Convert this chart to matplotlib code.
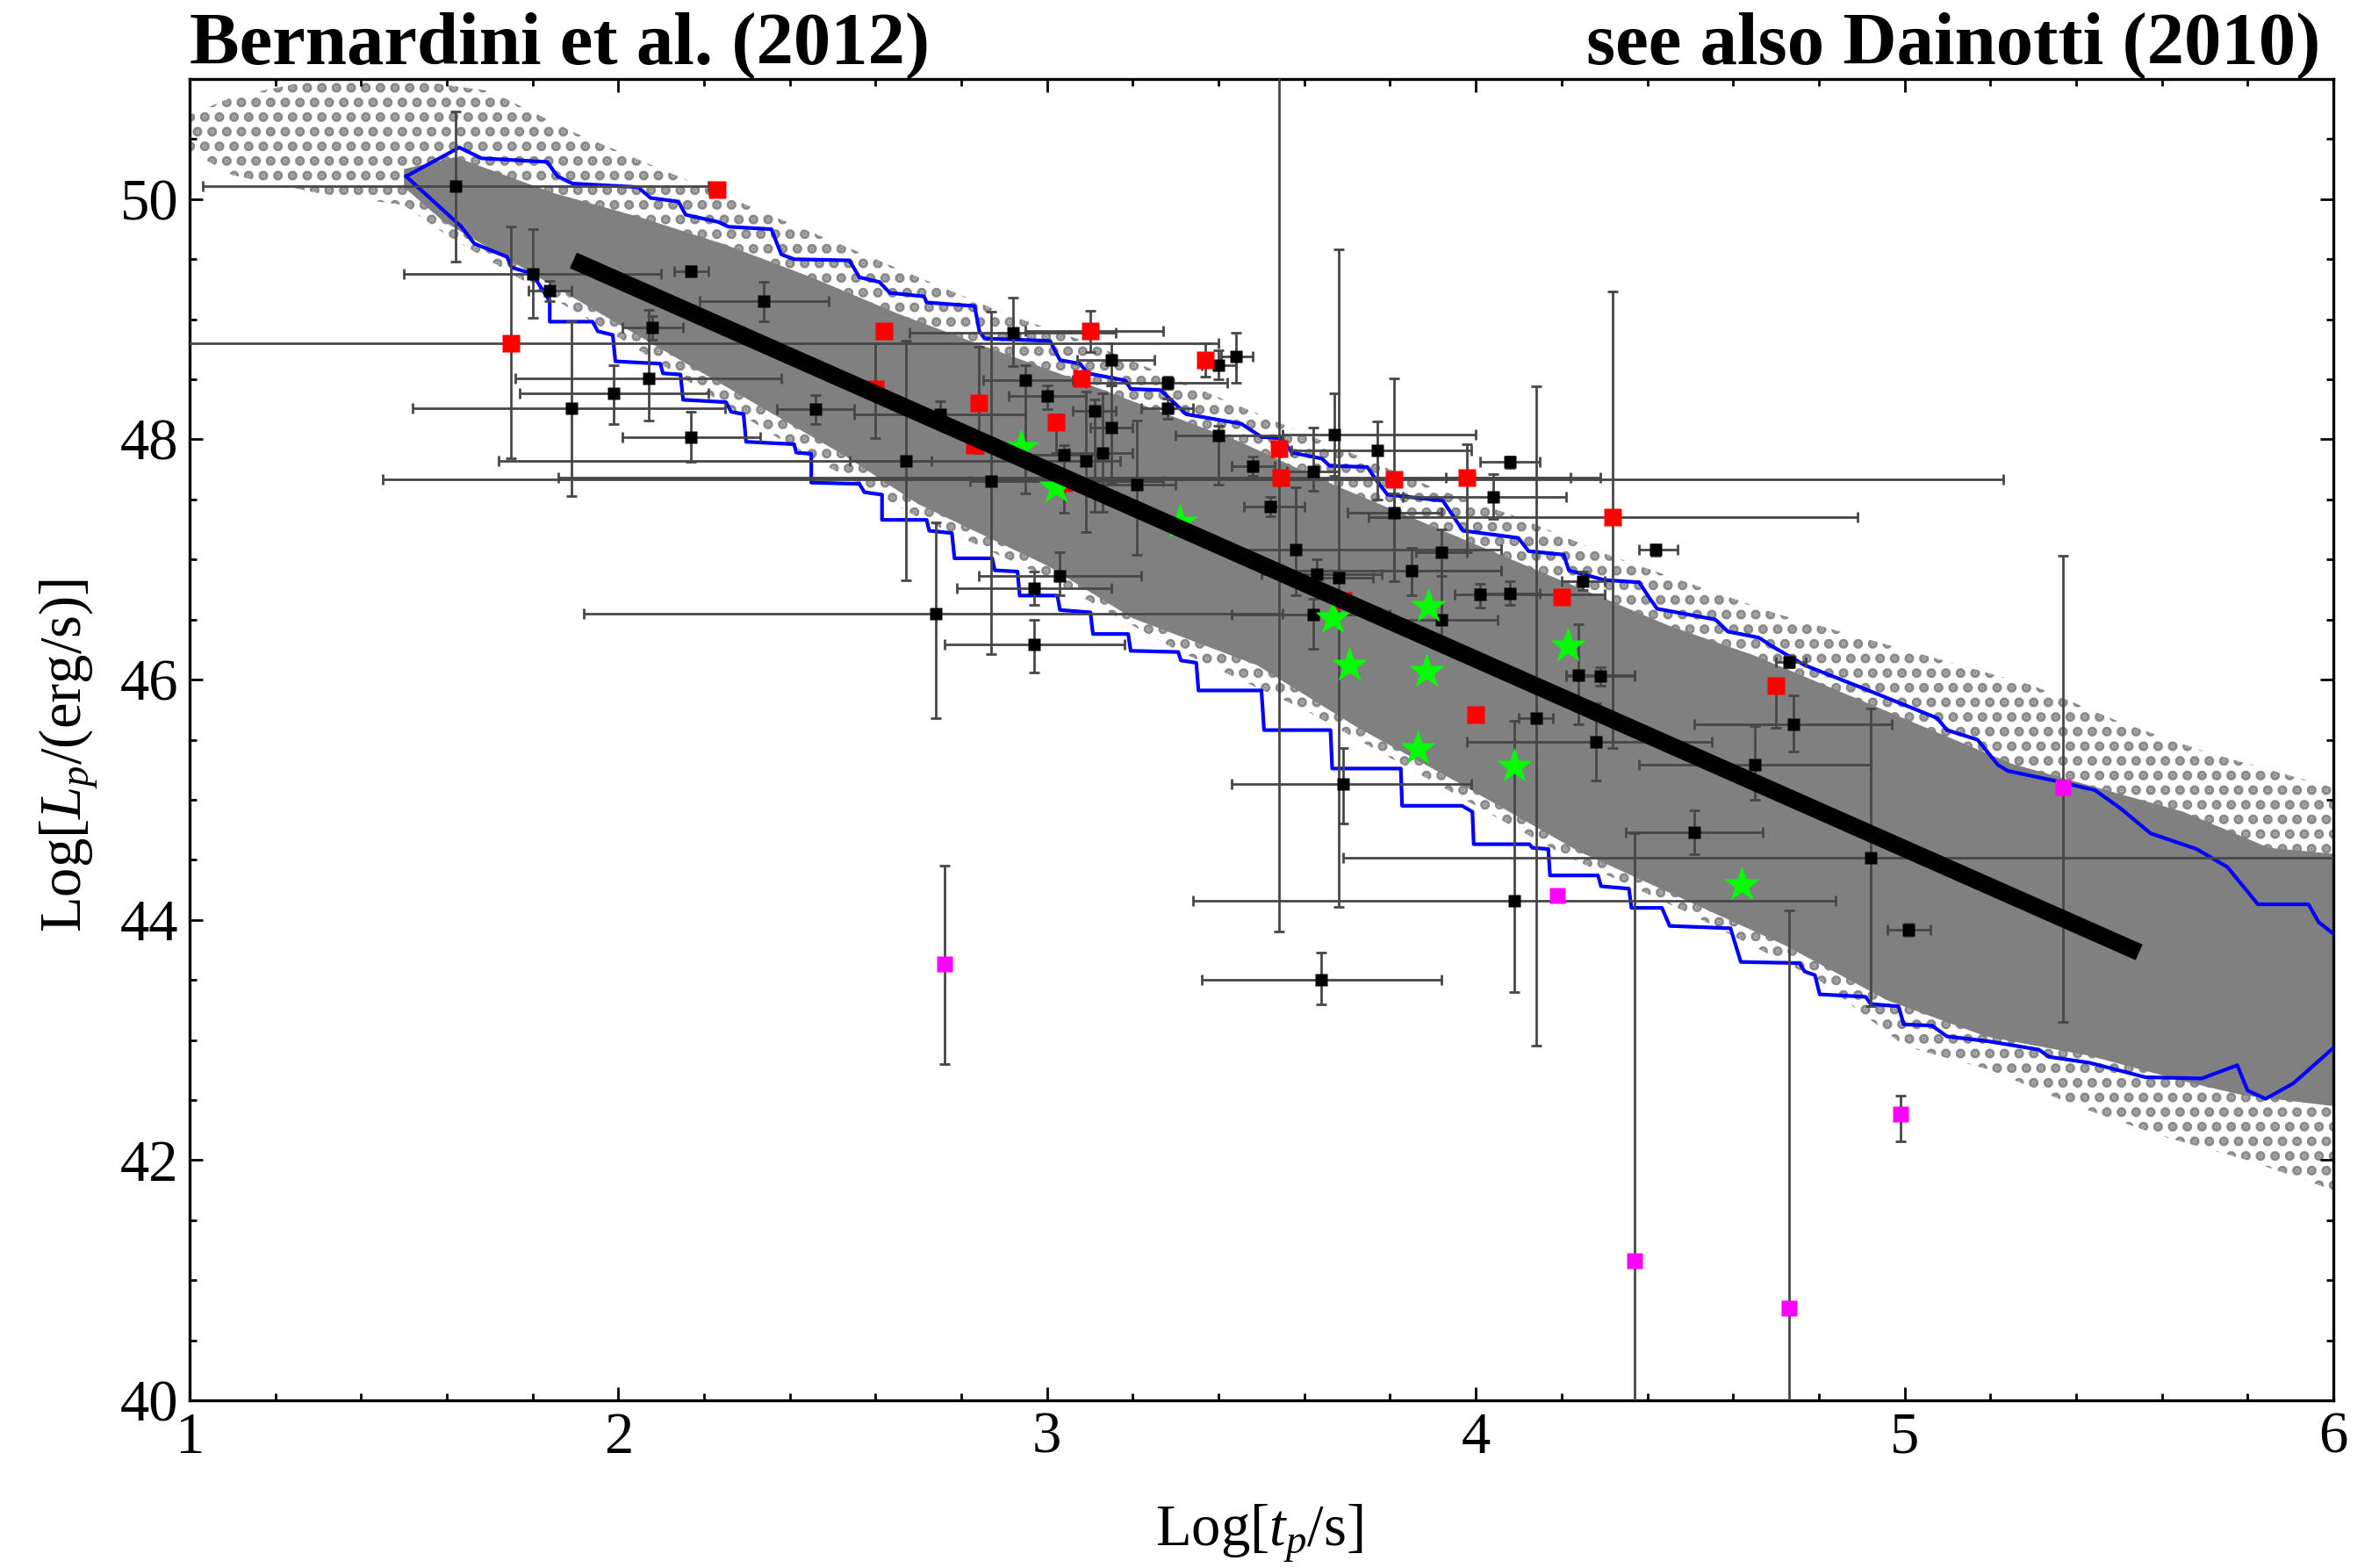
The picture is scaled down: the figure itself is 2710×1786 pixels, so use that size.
import numpy as np
import matplotlib
matplotlib.use('Agg')
import matplotlib.pyplot as plt
from matplotlib.ticker import MultipleLocator

#-----------------------------------Data----------------------------------

# simulated population: dense band (upper edge left->right, lower edge left->right)
dense_up_x = [1.50, 1.62, 1.85, 2.05, 2.25, 2.45, 2.65, 2.85, 3.05, 3.25, 3.45, 3.65,
              3.85, 4.05, 4.25, 4.45, 4.65, 4.85, 5.05, 5.25, 5.45, 5.65, 5.85, 6.00]
dense_up_y = [50.25, 50.35, 50.05, 49.85, 49.62, 49.35, 49.05, 48.78, 48.52, 48.25, 47.98, 47.65,
              47.35, 47.05, 46.75, 46.45, 46.20, 45.90, 45.60, 45.30, 45.10, 44.90, 44.60, 44.55]
dense_lo_x = [1.50, 1.59, 2.00, 2.53, 2.70, 3.00, 3.20, 3.49, 3.72, 3.96, 4.24, 4.48,
              4.72, 4.96, 5.19, 5.43, 5.67, 5.79, 6.00]
dense_lo_y = [50.10, 49.82, 48.96, 47.86, 47.46, 46.95, 46.51, 46.12, 45.61, 45.14, 44.57, 44.18,
              43.79, 43.33, 43.03, 42.87, 42.64, 42.54, 42.45]

# sparse outskirts of the population
sparse_up_x = [1.0, 1.1, 1.3, 1.5, 1.7, 1.9, 2.1, 2.3, 2.5, 2.7, 2.9, 3.1, 3.3, 3.5,
               3.7, 3.9, 4.1, 4.3, 4.5, 4.7, 4.9, 5.1, 5.3, 5.5, 5.7, 5.9, 6.0]
sparse_up_y = [50.70, 50.85, 51.00, 51.00, 50.90, 50.55, 50.25, 49.95, 49.65, 49.35, 49.05, 48.80,
               48.50, 48.20, 47.90, 47.60, 47.35, 47.05, 46.80, 46.55, 46.35, 46.15, 45.95,
               45.65, 45.40, 45.20, 45.10]
sparse_lo_x = [1.0, 1.1, 1.3, 1.5, 1.6, 2.0, 2.4, 2.7, 3.0, 3.3, 3.6, 3.9, 4.2, 4.5,
               4.8, 5.0, 5.2, 5.4, 5.6, 5.8, 6.0]
sparse_lo_y = [50.40, 50.20, 50.05, 49.95, 49.70, 48.85, 47.95, 47.35, 46.85, 46.25, 45.75, 45.15,
               44.55, 44.05, 43.50, 42.95, 42.75, 42.45, 42.20, 42.00, 41.75]

# blue contour
blue_up_x = [1.505, 1.629, 1.681, 1.834, 1.858, 1.893, 2.046, 2.075, 2.140, 2.157, 2.233, 2.257,
             2.357, 2.380, 2.410, 2.539, 2.562, 2.609, 2.633, 2.713, 2.719, 2.831, 2.842, 2.854,
             3.007, 3.030, 3.077, 3.095, 3.183, 3.195, 3.265, 3.289, 3.324, 3.453, 3.500, 3.547,
             3.571, 3.641, 3.659, 3.747, 3.770, 3.794, 3.923, 3.970, 4.099, 4.123, 4.205, 4.217,
             4.299, 4.381, 4.405, 4.423, 4.559, 4.588, 4.660, 4.690, 4.767, 4.909, 5.076, 5.099,
             5.170, 5.218, 5.241, 5.348, 5.444, 5.503, 5.574, 5.681, 5.753, 5.824, 5.942, 5.966, 6.002]
blue_up_y = [50.19, 50.43, 50.34, 50.31, 50.19, 50.13, 50.10, 50.01, 49.98, 49.87, 49.81, 49.77,
             49.75, 49.54, 49.50, 49.49, 49.35, 49.31, 49.22, 49.19, 49.14, 49.11, 48.90, 48.84,
             48.82, 48.66, 48.63, 48.55, 48.49, 48.42, 48.41, 48.33, 48.21, 48.13, 48.02, 48.01,
             47.89, 47.84, 47.78, 47.77, 47.65, 47.54, 47.49, 47.24, 47.18, 47.07, 47.04, 46.91,
             46.83, 46.81, 46.68, 46.59, 46.50, 46.40, 46.35, 46.28, 46.12, 45.92, 45.68, 45.58,
             45.50, 45.29, 45.24, 45.16, 45.08, 44.93, 44.72, 44.59, 44.44, 44.13, 44.13, 43.98, 43.88]
blue_lo_x = [1.505, 1.634, 1.664, 1.740, 1.752, 1.799, 1.840, 1.840, 1.940, 1.952, 1.987, 1.993,
             2.098, 2.104, 2.145, 2.151, 2.251, 2.263, 2.292, 2.298, 2.410, 2.415, 2.450, 2.450,
             2.562, 2.574, 2.615, 2.615, 2.719, 2.725, 2.778, 2.784, 2.872, 2.878, 2.931, 2.936,
             3.024, 3.030, 3.101, 3.107, 3.189, 3.195, 3.306, 3.312, 3.348, 3.353, 3.500, 3.506,
             3.661, 3.665, 3.825, 3.828, 3.968, 3.992, 3.995, 4.125, 4.132, 4.169, 4.173, 4.285,
             4.292, 4.357, 4.363, 4.434, 4.452, 4.594, 4.618, 4.755, 4.767, 4.791, 4.802, 4.909,
             4.921, 4.986, 4.998, 5.064, 5.099, 5.194, 5.313, 5.337, 5.432, 5.562, 5.693, 5.776,
             5.800, 5.842, 5.907, 6.002]
blue_lo_y = [50.19, 49.77, 49.63, 49.52, 49.43, 49.38, 49.15, 48.98, 48.98, 48.90, 48.87, 48.65,
             48.63, 48.55, 48.54, 48.33, 48.31, 48.23, 48.21, 47.98, 47.96, 47.89, 47.88, 47.64,
             47.63, 47.56, 47.54, 47.33, 47.33, 47.24, 47.22, 47.01, 47.01, 46.91, 46.90, 46.70,
             46.70, 46.58, 46.56, 46.38, 46.38, 46.24, 46.23, 46.16, 46.14, 45.91, 45.91, 45.58,
             45.58, 45.26, 45.26, 44.95, 44.95, 44.90, 44.63, 44.63, 44.60, 44.59, 44.37, 44.37,
             44.28, 44.26, 44.10, 44.10, 43.95, 43.93, 43.65, 43.64, 43.57, 43.54, 43.38, 43.36,
             43.30, 43.28, 43.13, 43.12, 43.03, 42.99, 42.92, 42.86, 42.81, 42.69, 42.68, 42.79,
             42.58, 42.51, 42.64, 42.94]

# black data points: value, then lower/upper ends of error bars
bx    = [1.62, 1.80, 1.84, 2.17, 2.34, 2.08, 2.07, 1.99, 1.89, 2.46, 2.17, 2.67, 2.75, 2.74, 2.97,
         2.97, 3.03, 2.87, 2.92, 2.95, 3.00, 3.04, 3.09, 3.13, 3.11, 3.15, 3.15, 3.21, 3.28, 3.28,
         3.40, 3.44, 3.40, 3.48, 3.52, 3.62, 3.67, 3.77, 4.08, 4.04, 3.81, 3.58, 3.85, 3.92, 3.63,
         3.68, 4.25, 4.42, 4.01, 4.08, 3.62, 3.92, 4.24, 4.29, 4.14, 4.28, 3.69, 4.73, 4.74, 4.65,
         4.51, 4.92, 5.01, 4.09, 3.64]
by    = [50.11, 49.38, 49.24, 49.40, 49.15, 48.93, 48.51, 48.38, 48.26, 48.25, 48.02, 47.82, 48.21,
         46.55, 46.76, 46.29, 46.86, 47.65, 48.89, 48.49, 48.36, 47.87, 47.82, 47.89, 48.24, 48.66,
         48.10, 47.62, 48.47, 48.26, 48.62, 48.69, 48.03, 47.78, 47.44, 47.73, 48.04, 47.91, 47.81,
         47.52, 47.39, 47.08, 46.91, 47.06, 46.88, 46.85, 46.82, 47.08, 46.71, 46.72, 46.54, 46.50,
         46.04, 46.03, 45.68, 45.48, 45.13, 46.15, 45.63, 45.29, 44.73, 44.52, 43.92, 44.16, 43.50]
bx_lo = [1.03, 1.50, 1.79, 2.13, 2.19, 2.01, 1.76, 1.77, 1.52, 2.37, 2.01, 2.54, 2.55, 1.92, 2.79,
         2.76, 2.84, 2.82, 2.68, 2.85, 2.91, 2.95, 1.72, 3.05, 3.06, 3.07, 3.10, 3.10, 3.09, 3.22,
         3.36, 3.405, 3.30, 3.43, 3.46, 3.56, 3.55, 3.57, 4.01, 3.83, 3.70, 3.43, 3.50, 3.86, 3.50,
         3.60, 4.20, 4.38, 3.95, 4.00, 3.43, 3.80, 4.21, 4.21, 4.10, 3.98, 3.43, 4.70, 4.51, 4.38,
         4.35, 3.69, 4.96, 3.34, 3.36]
bx_hi = [2.21, 2.10, 1.89, 2.21, 2.49, 2.15, 2.38, 2.21, 2.25, 2.55, 2.33, 2.73, 2.95, 3.55, 3.15,
         3.18, 3.22, 3.27, 3.16, 3.06, 3.09, 3.12, 3.17, 3.20, 3.16, 3.25, 3.20, 3.30, 3.42, 3.34,
         3.44, 3.48, 3.55, 3.53, 3.60, 3.68, 4.00, 3.99, 4.15, 4.21, 3.92, 4.06, 4.06, 3.98, 3.78,
         3.76, 4.30, 4.47, 4.30, 4.15, 3.80, 4.05, 4.37, 4.37, 4.18, 4.55, 3.99, 4.77, 4.97, 4.92,
         4.67, 6.20, 5.06, 4.84, 3.92]
by_lo = [49.48, 49.01, 49.15, 49.36, 48.98, 48.83, 48.16, 48.13, 47.53, 48.13, 47.81, 46.83, 48.10,
         45.68, 46.62, 46.06, 46.70, 46.21, 48.61, 47.55, 48.25, 47.39, 47.23, 47.40, 47.40, 48.45,
         47.63, 47.04, 48.42, 48.17, 48.50, 48.47, 47.62, 47.70, 47.36, 47.57, 47.70, 47.50, 47.76,
         47.34, 46.82, 46.70, 46.70, 46.86, 46.75, 44.11, 46.75, 47.03, 46.60, 46.62, 46.26, 46.35,
         45.63, 45.95, 42.95, 45.16, 44.80, 46.10, 45.40, 45.00, 44.55, 43.28, 43.87, 43.40, 43.30]
by_hi = [50.73, 49.75, 49.32, 49.44, 49.31, 49.03, 49.08, 48.62, 48.98, 48.37, 48.23, 48.82, 48.32,
         47.31, 46.90, 46.50, 47.06, 49.06, 49.18, 48.62, 48.45, 47.95, 48.40, 48.38, 48.33, 48.80,
         48.45, 48.16, 48.52, 48.34, 48.74, 48.89, 48.11, 47.86, 47.52, 48.10, 48.38, 48.15, 47.86,
         47.71, 47.55, 47.60, 47.10, 47.25, 47.00, 49.58, 46.90, 47.13, 46.80, 46.82, 46.67, 46.91,
         46.46, 46.10, 48.44, 45.80, 45.43, 46.20, 45.87, 45.61, 44.91, 45.76, 43.97, 45.66, 43.73]

# red data points
rx    = [1.75, 2.23, 2.62, 2.60, 2.84, 2.83, 3.02, 3.04, 3.10, 3.08, 3.37, 3.54, 3.545, 3.81, 3.98,
         4.32, 3.69, 4.20, 4.00, 4.70]
ry    = [48.80, 50.08, 48.90, 48.42, 48.30, 47.95, 48.14, 47.64, 48.90, 48.51, 48.66, 47.92, 47.68,
         47.67, 47.68, 47.35, 46.66, 46.69, 45.71, 45.95]
rx_lo = [0.50, 2.23, 2.62, 2.60, 2.84, 2.83, 3.02, 3.04, 2.95, 3.08, 3.37, 3.54, 1.86, 1.45, 3.93,
         3.75, 3.69, 4.20, 4.00, 4.70]
rx_hi = [3.40, 2.23, 2.62, 2.60, 2.84, 2.83, 3.02, 3.04, 3.27, 3.08, 3.37, 3.54, 4.22, 5.23, 4.29,
         4.89, 3.69, 4.20, 4.00, 4.70]
ry_lo = [47.84, 50.08, 48.90, 48.01, 47.89, 47.95, 47.89, 47.64, 48.73, 48.51, 48.52, 43.90, 47.68,
         46.82, 47.06, 45.43, 46.66, 46.69, 45.71, 45.60]
ry_hi = [49.77, 50.08, 48.90, 48.80, 48.77, 47.95, 48.21, 47.64, 49.07, 48.51, 48.80, 51.50, 47.68,
         48.51, 47.96, 49.23, 46.66, 46.69, 45.71, 45.95]

# magenta data points
mx    = [2.76, 4.19, 4.37, 4.73, 4.99, 5.37]
my    = [43.63, 44.20, 41.16, 40.77, 42.38, 45.10]
my_lo = [42.80, 44.20, 38.00, 38.00, 42.16, 43.15]
my_hi = [44.45, 44.20, 44.72, 44.08, 42.54, 47.03]

# green stars
gx = [2.94, 3.02, 3.31, 3.665, 3.705, 3.89, 3.885, 3.865, 4.09, 4.215, 4.62]
gy = [47.93, 47.60, 47.31, 46.51, 46.12, 46.61, 46.07, 45.42, 45.28, 46.28, 44.29]

# best fit line
fit_x = [1.895, 5.547]
fit_y = [49.49, 43.73]

x_ticks = [1, 2, 3, 4, 5, 6]
y_ticks = [40, 42, 44, 46, 48, 50]

#-----------------------------------Functions----------------------------------

def band(ax, up_x, up_y, lo_x, lo_y, z, **kw):
#Fills the region between an upper and a lower edge
    px = list(up_x) + list(lo_x)[::-1]
    py = list(up_y) + list(lo_y)[::-1]
    ax.fill(px, py, lw=0, zorder=z, **kw)

def bars(ax, x, y, lo_x, hi_x, lo_y, hi_y, z):
#Draws asymmetric error bars from the lower and upper ends
    x = np.array(x); y = np.array(y)
    xerr = [x - np.array(lo_x), np.array(hi_x) - x]
    yerr = [y - np.array(lo_y), np.array(hi_y) - y]
    ax.errorbar(x, y, xerr=xerr, yerr=yerr, fmt='none', ecolor='#474747',
                elinewidth=2.0, capsize=4.5, capthick=2.0, zorder=z)

#-----------------------------------Plot----------------------------------

plt.rcParams['font.family'] = ['Liberation Serif', 'DejaVu Serif']
plt.rcParams['mathtext.fontset'] = 'custom'
plt.rcParams['mathtext.rm'] = 'Liberation Serif'
plt.rcParams['mathtext.it'] = 'Liberation Serif:italic'
plt.rcParams['hatch.linewidth'] = 5.5

fig = plt.figure(figsize=(27.1, 17.86), dpi=100)
ax = fig.add_axes([0.0797, 0.1069, 0.9011, 0.8427])

# sparse outskirts as a dotted texture, dense core as solid grey
band(ax, sparse_up_x, sparse_up_y, sparse_lo_x, sparse_lo_y, 1,
     facecolor='none', edgecolor='#8a8a8a', hatch='.')
band(ax, dense_up_x, dense_up_y, dense_lo_x, dense_lo_y, 2, color='#808080')

ax.plot(blue_up_x, blue_up_y, color='#0000ff', lw=3.0, zorder=3)
ax.plot(blue_lo_x, blue_lo_y, color='#0000ff', lw=3.0, zorder=3)

bars(ax, bx, by, bx_lo, bx_hi, by_lo, by_hi, 4)
bars(ax, rx, ry, rx_lo, rx_hi, ry_lo, ry_hi, 4)
bars(ax, mx, my, mx, mx, my_lo, my_hi, 4)

ax.plot(bx, by, 's', color='black', ms=9.5, mec='none', zorder=5)
ax.plot(rx, ry, 's', color='#ff0000', ms=14.5, mec='none', zorder=6)
ax.plot(mx, my, 's', color='#ff00ff', ms=13.5, mec='none', zorder=6)
ax.plot(gx, gy, '*', color='#00ff00', ms=31, mec='none', zorder=7)

ax.plot(fit_x, fit_y, color='black', lw=14, solid_capstyle='butt', zorder=8)

ax.set_xlim(1, 6)
ax.set_ylim(40, 51)
ax.set_xticks(x_ticks)
ax.set_yticks(y_ticks)
ax.xaxis.set_minor_locator(MultipleLocator(0.2))
ax.yaxis.set_minor_locator(MultipleLocator(0.5))
ax.tick_params(which='both', direction='in', top=True, right=True, width=2.0,
               labelsize=48, pad=9)
ax.tick_params(which='major', length=10.5)
ax.tick_params(which='minor', length=5.5)
for s in ax.spines.values():
    s.set_linewidth(2.4)

fig.text(1434 / 2710, 1 - 1761 / 1786, r'Log[$t_p$/s]', ha='center', va='baseline', fontsize=48)
fig.text(78 / 2710, 1 - 860 / 1786, r'Log[$L_p$/(erg/s)]', ha='center', va='center',
         rotation=90, fontsize=48)

ax.text(0.0, 1.0113, 'Bernardini et al. (2012)', transform=ax.transAxes, ha='left',
        va='baseline', fontsize=61, fontweight='bold')
ax.text(0.994, 1.0113, 'see also Dainotti (2010)', transform=ax.transAxes, ha='right',
        va='baseline', fontsize=61, fontweight='bold')

fig.savefig('out.png', dpi=100)
